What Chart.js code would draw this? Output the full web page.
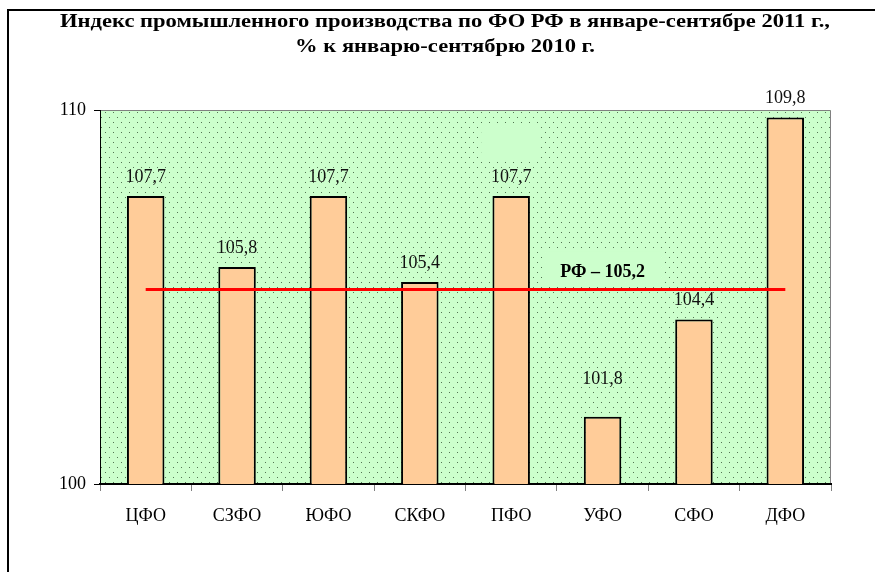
<!DOCTYPE html>
<html>
<head>
<meta charset="utf-8">
<script src="https://cdn.jsdelivr.net/npm/chart.js@4.4.1/dist/chart.umd.min.js"></script>
<style>
  body { margin: 0; background: #fff; }
  #wrap { width: 875px; height: 572px; }
</style>
</head>
<body>
<div id="wrap"><canvas id="grafica" width="875" height="572"></canvas></div>
<script>
const okruga = ["ЦФО", "СЗФО", "ЮФО", "СКФО", "ПФО", "УФО", "СФО", "ДФО"];
const indeks = [107.7, 105.8, 107.7, 105.4, 107.7, 101.8, 104.4, 109.8];
const rfIndeks = [105.2, 105.2, 105.2, 105.2, 105.2, 105.2, 105.2, 105.2];
const rfLabel = "РФ – 105,2";
const osY = [100, 110];
const zagolovok = [
  "Индекс промышленного производства по ФО РФ в январе-сентябре 2011 г.,",
  "% к январю-сентябрю 2010 г."
];

const serif = "'Liberation Serif', 'Times New Roman', serif";

// точечный фон области построения
function makePattern(ctx) {
  const c = document.createElement("canvas");
  c.width = 8; c.height = 10;
  const p = c.getContext("2d");
  p.fillStyle = "#ccffcc";
  p.fillRect(0, 0, 8, 10);
  p.fillStyle = "rgba(40,70,40,0.75)";
  p.fillRect(1, 2, 1, 1);
  p.fillRect(5, 7, 1, 1);
  return ctx.createPattern(c, "repeat");
}

const fonPlugin = {
  id: "fon",
  beforeDraw(chart) {
    const { ctx, chartArea: a, scales } = chart;
    ctx.save();
    // рамка
    ctx.strokeStyle = "#000";
    ctx.lineWidth = 2;
    ctx.beginPath();
    ctx.moveTo(8, 572);
    ctx.lineTo(8, 10);
    ctx.lineTo(875, 10);
    ctx.stroke();

    // заголовок
    ctx.fillStyle = "#000";
    ctx.font = "bold 19px " + serif;
    ctx.textAlign = "center";
    ctx.textBaseline = "middle";
    const w1 = ctx.measureText(zagolovok[0]).width;
    const k = 770 / w1;
    ctx.save();
    ctx.translate(445, 0);
    ctx.scale(k, 1);
    ctx.fillText(zagolovok[0], 0, 22);
    ctx.fillText(zagolovok[1], 0, 47);
    ctx.restore();

    // область построения
    ctx.fillStyle = makePattern(ctx);
    ctx.fillRect(a.left, a.top, a.width, a.height);
    // пустые подложки надписей
    ctx.fillStyle = "#ccffcc";
    const xp = scales.x.getPixelForValue(4);
    ctx.fillRect(xp - 30, a.top + 14, 58, 34);
    const xl = scales.x.getPixelForValue(5);
    const yl = scales.y.getPixelForValue(105.2);
    ctx.fillRect(xl - 60, yl - 38, 120, 33);

    ctx.strokeStyle = "#808080";
    ctx.lineWidth = 1;
    ctx.beginPath();
    ctx.moveTo(a.left, a.top + 0.5);
    ctx.lineTo(a.right - 0.5, a.top + 0.5);
    ctx.lineTo(a.right - 0.5, a.bottom);
    ctx.stroke();
    ctx.restore();
  },
  afterDatasetsDraw(chart) {
    const { ctx, scales } = chart;
    const meta = chart.getDatasetMeta(1);
    ctx.save();
    ctx.fillStyle = "#111";
    ctx.font = "18px " + serif;
    ctx.textAlign = "center";
    ctx.textBaseline = "middle";
    meta.data.forEach((bar, i) => {
      const lift = i === 5 ? 37 : 19;
      ctx.fillText(indeks[i].toFixed(1).replace(".", ","), bar.x, bar.y - lift);
    });
    ctx.font = "bold 18px " + serif;
    ctx.fillStyle = "#000";
    ctx.fillText(rfLabel, scales.x.getPixelForValue(5), scales.y.getPixelForValue(105.2) - 17);
    ctx.restore();
  }
};

new Chart(document.getElementById("grafica"), {
  type: "bar",
  data: {
    labels: okruga,
    datasets: [{
      type: "line",
      data: rfIndeks,
      borderColor: "#ff0000",
      borderWidth: 3,
      pointRadius: 0,
      order: 0
    }, {
      data: indeks,
      backgroundColor: "#ffcc99",
      borderColor: "#000",
      borderWidth: 2,
      borderSkipped: false,
      barPercentage: 0.41,
      categoryPercentage: 1,
      order: 1
    }]
  },
  options: {
    responsive: false,
    devicePixelRatio: 1,
    animation: false,
    layout: { padding: { left: 0, right: 44, top: 110, bottom: 0 } },
    plugins: { legend: { display: false }, tooltip: { enabled: false } },
    scales: {
      x: {
        afterFit(s) { s.height = 88; },
        grid: { drawOnChartArea: false, tickLength: 7, color: "#808080", offset: true },
        border: { color: "#000", width: 2 },
        ticks: { color: "#000", padding: 14, font: { family: serif, size: 18 } }
      },
      y: {
        min: osY[0],
        max: osY[1],
        afterFit(s) { s.width = 100; },
        afterBuildTicks(s) { s.ticks = osY.map(v => ({ value: v })); },
        grid: { drawOnChartArea: false, tickLength: 6, color: "#000" },
        border: { color: "#000", width: 1 },
        ticks: { color: "#000", padding: 8, font: { family: serif, size: 18 } }
      }
    }
  },
  plugins: [fonPlugin]
});
</script>
</body>
</html>
